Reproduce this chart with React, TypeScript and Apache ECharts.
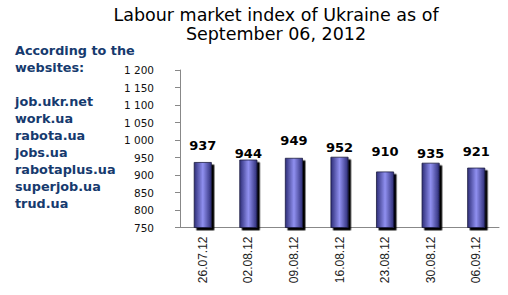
import React, { useEffect, useRef } from "react";
import * as echarts from "echarts";

const categories = ["26.07.12", "02.08.12", "09.08.12", "16.08.12", "23.08.12", "30.08.12", "06.09.12"];
const values = [937, 944, 949, 952, 910, 935, 921];
const labelLift = [-10, 0, -11, -2.5, -14, -2.5, -10];
const titleLines = ["Labour market index of Ukraine as of", "September 06, 2012"];
const sourceLines = ["According to the", "websites:", "", "job.ukr.net", "work.ua", "rabota.ua", "jobs.ua", "rabotaplus.ua", "superjob.ua", "trud.ua"];

export default function App() {
  const ref = useRef<HTMLDivElement>(null);
  useEffect(() => {
    const chart = echarts.init(ref.current!, null, { renderer: "svg" });
    const barColor = new echarts.graphic.LinearGradient(0, 0, 1, 0, [
      { offset: 0, color: "#2e2e78" },
      { offset: 0.5, color: "#9090f0" },
      { offset: 1, color: "#2e2e78" },
    ]);
    chart.setOption({
      animation: false,
      title: {
        text: titleLines.join("\n"),
        left: 271,
        textAlign: "center",
        top: 0,
        textStyle: { fontFamily: "DejaVu Sans", fontSize: 17.5, fontWeight: "normal", color: "#000", lineHeight: 19.5 },
      },
      graphic: [
        {
          type: "text",
          left: 15,
          top: 42,
          style: {
            text: sourceLines.join("\n"),
            fontFamily: "DejaVu Sans",
            fontWeight: "bold",
            fontSize: 12.8,
            lineHeight: 17,
            fill: "#163a6e",
          },
        },
      ],
      grid: { left: 180, right: 9, top: 70, bottom: 67.5 },
      xAxis: {
        type: "category",
        data: categories,
        axisLine: { lineStyle: { color: "#888" } },
        axisTick: { length: 5, lineStyle: { color: "#888" } },
        axisLabel: {
          rotate: 90,
          margin: 9,
          fontFamily: "Liberation Sans",
          fontSize: 12,
          color: "#222",
        },
      },
      yAxis: {
        type: "value",
        min: 750,
        max: 1200,
        interval: 50,
        splitLine: { show: false },
        axisLine: { show: true, lineStyle: { color: "#888" } },
        axisTick: { show: true, length: 5, lineStyle: { color: "#888" } },
        axisLabel: {
          margin: 26,
          fontFamily: "DejaVu Sans",
          fontSize: 10.5,
          color: "#111",
          formatter: (v: number) => String(v).replace(/\B(?=(\d{3})+(?!\d))/g, " "),
        },
      },
      series: [
        {
          type: "bar",
          barWidth: 18,
          data: values.map((v, i) => ({
            value: v,
            label: { offset: [0, labelLift[i]] },
          })),
          itemStyle: {
            color: barColor,
            borderColor: "#1c1c40",
            borderWidth: 0.8,
            shadowColor: "#000",
            shadowOffsetX: 2.5,
            shadowOffsetY: 2.5,
            shadowBlur: 0,
          },
          label: {
            show: true,
            position: "top",
            distance: 0,
            fontFamily: "DejaVu Sans",
            fontWeight: "bold",
            fontSize: 13,
            color: "#000",
          },
        },
      ],
    });
    return () => chart.dispose();
  }, []);
  return <div ref={ref} style={{ width: 508, height: 295, position: "absolute", left: 0, top: 0 }} />;
}
